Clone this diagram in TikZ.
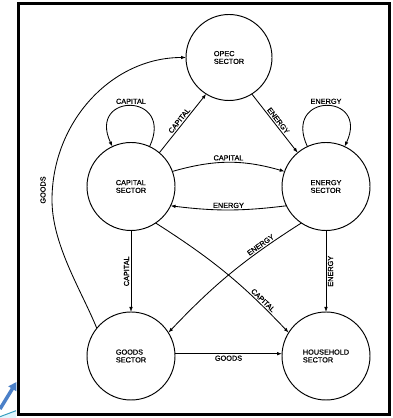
\documentclass[tikz,border=0pt]{standalone}
\usepackage{fontspec}
\setmainfont{Liberation Sans}
\newfontfamily\lblfamily{Liberation Sans}[FakeBold=0.8]
\usetikzlibrary{arrows.meta}
\definecolor{decoblue}{HTML}{4B80C8}
\definecolor{decoteal}{HTML}{3AA0C0}
\newcommand{\lblfont}{\lblfamily\fontsize{7.3}{7.8}\selectfont}
\begin{document}
\begin{tikzpicture}[x=1pt,y=1pt,
  sector/.style={circle,draw,line width=0.95pt,minimum size=88pt,inner sep=0pt,outer sep=0pt,align=left,font=\lblfont},
  flow/.style={line width=0.85pt,-{Latex[length=5pt,width=3.6pt]}},
  lbl/.style={font=\lblfont,inner sep=1.5pt}]
\useasboundingbox (0,0) rectangle (392,418);
\fill[white] (0,0) rectangle (392,418);
% corner decoration
\fill[cyan!12] (0,0) -- (0,1.3) -- (16,7.3) -- (16,0) -- cycle;
\draw[decoteal,line width=1pt] (0,1.3) -- (16,7.3);
\draw[decoblue,line width=3.5pt,-{Triangle[length=8pt,width=9pt]}] (0,9) -- (16.5,36);
% frame
\draw[line width=3pt] (18,3) rectangle (389,414.5);
% sectors
\node[sector,minimum size=86pt] (opec) at (229,360.5) {OPEC\\SECTOR};
\node[sector] (cap) at (131,231.5) {CAPITAL\\SECTOR};
\node[sector] (en) at (326,231.5) {ENERGY\\SECTOR};
\node[sector] (goods) at (131,62) {GOODS\\SECTOR};
\node[sector] (house) at (326,62) {HOUSEHOLD\\SECTOR};
% goods -> opec
\coordinate (gbend) at (52,218);
\draw[flow] (goods.141) .. controls +(112:40) and (52,173) .. (gbend)
  .. controls (52,296) and (111.6,360.5) .. (opec.west);
\node[lbl,rotate=90] (lgoods) at (43,228) {GOODS};
% capital / energy links
\draw[flow] (cap.50) -- node[lbl,sloped,above]{CAPITAL} (opec.238);
\draw[flow] (opec.302) -- node[lbl,sloped,above]{ENERGY} (en.130);
\draw[flow] (cap.20) to[bend left=16] node[lbl,above]{CAPITAL} (en.160);
\draw[flow] (en.206) to[bend left=7] node[lbl,above]{ENERGY} (cap.334);
\draw[flow] (cap.south) -- node[lbl,rotate=90,anchor=south]{CAPITAL} (goods.north);
\draw[flow] (en.south) -- node[lbl,rotate=90,anchor=north]{ENERGY} (house.north);
\draw[flow] (cap.304) to[bend left=7] node[lbl,sloped,above,pos=0.78]{CAPITAL} (house.148);
\draw[flow] (en.236) to[bend right=7] node[lbl,sloped,above,pos=0.25]{ENERGY} (goods.32);
\draw[flow] (goods.3) -- node[lbl,below]{GOODS} (house.177);
% self loops
\draw[flow] (cap.65) .. controls +(65:60) and +(115:60) .. node[lbl,above]{CAPITAL} (cap.115);
\draw[flow] (en.115) .. controls +(115:60) and +(65:60) .. node[lbl,above]{ENERGY} (en.65);
\end{tikzpicture}
\end{document}
